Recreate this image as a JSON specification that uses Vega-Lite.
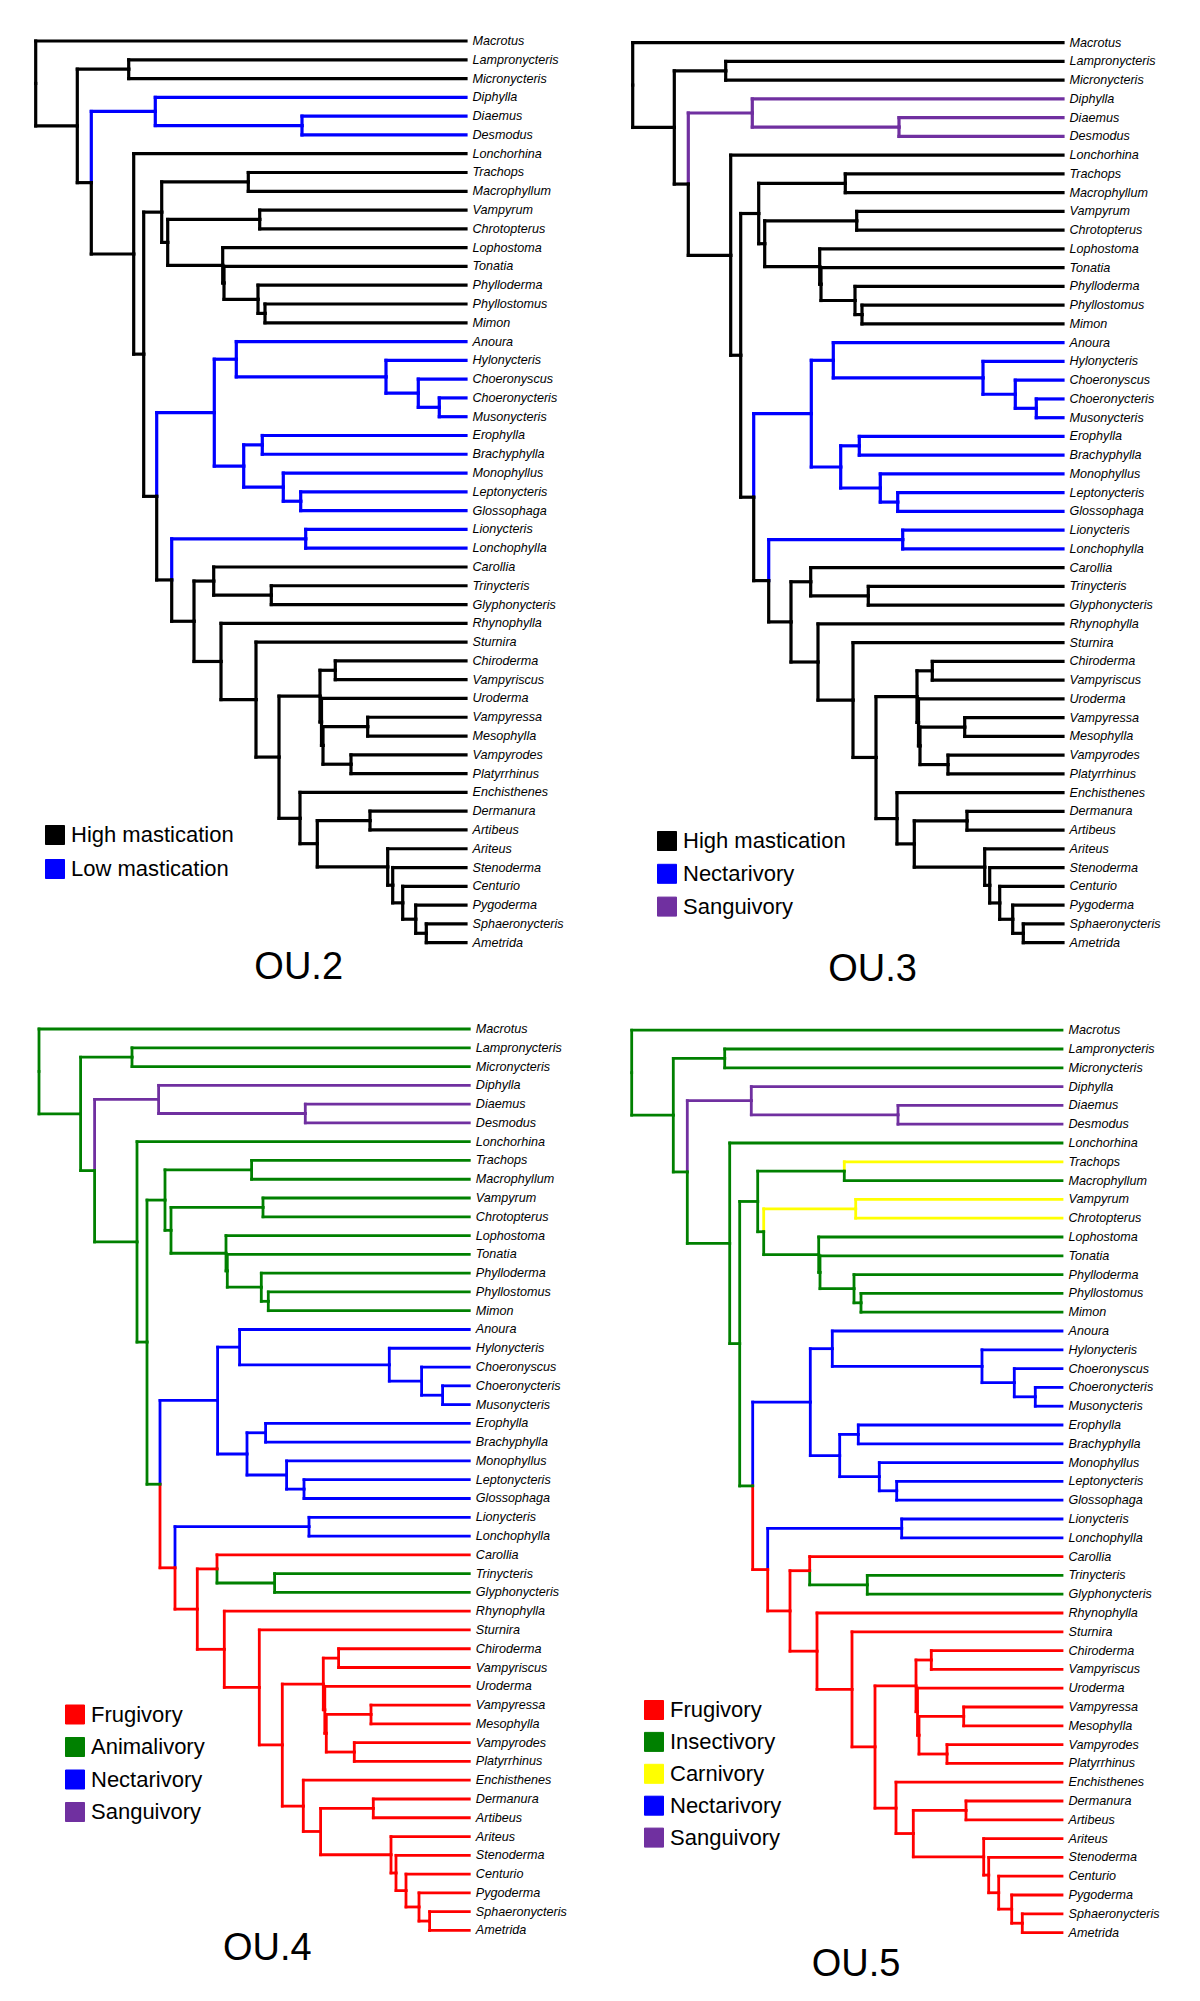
{
"$schema": "https://vega.github.io/schema/vega-lite/v6.json",
"padding": 0,
"spacing": 0,
"bounds": "flush",
"columns": 2,
"config": {"view": {"stroke": null}, "font": "Liberation Sans"},
"resolve": {"scale": {"color": "independent", "x": "independent", "y": "independent"}, "legend": {"color": "independent"}},
"datasets": {"tree": [
{"px":0,"py":2.26,"cx":430.3,"cy":0,"c2":"K","c3":"K","c4":"G","c5":"G","n":"Macrotus"},
{"px":0,"py":2.26,"cx":41.6,"cy":4.52,"c2":"K","c3":"K","c4":"G","c5":"G"},
{"px":41.6,"py":4.52,"cx":93,"cy":1.5,"c2":"K","c3":"K","c4":"G","c5":"G"},
{"px":93,"py":1.5,"cx":430.3,"cy":1,"c2":"K","c3":"K","c4":"G","c5":"G","n":"Lampronycteris"},
{"px":93,"py":1.5,"cx":430.3,"cy":2,"c2":"K","c3":"K","c4":"G","c5":"G","n":"Micronycteris"},
{"px":41.6,"py":4.52,"cx":55.6,"cy":7.54,"c2":"K","c3":"K","c4":"G","c5":"G"},
{"px":55.6,"py":7.54,"cx":119.6,"cy":3.75,"c2":"B","c3":"P","c4":"P","c5":"P"},
{"px":119.6,"py":3.75,"cx":430.3,"cy":3,"c2":"B","c3":"P","c4":"P","c5":"P","n":"Diphylla"},
{"px":119.6,"py":3.75,"cx":266.3,"cy":4.5,"c2":"B","c3":"P","c4":"P","c5":"P"},
{"px":266.3,"py":4.5,"cx":430.3,"cy":4,"c2":"B","c3":"P","c4":"P","c5":"P","n":"Diaemus"},
{"px":266.3,"py":4.5,"cx":430.3,"cy":5,"c2":"B","c3":"P","c4":"P","c5":"P","n":"Desmodus"},
{"px":55.6,"py":7.54,"cx":98,"cy":11.34,"c2":"K","c3":"K","c4":"G","c5":"G"},
{"px":98,"py":11.34,"cx":430.3,"cy":6,"c2":"K","c3":"K","c4":"G","c5":"G","n":"Lonchorhina"},
{"px":98,"py":11.34,"cx":108,"cy":16.67,"c2":"K","c3":"K","c4":"G","c5":"G"},
{"px":108,"py":16.67,"cx":126,"cy":9.11,"c2":"K","c3":"K","c4":"G","c5":"G"},
{"px":126,"py":9.11,"cx":212.6,"cy":7.5,"c2":"K","c3":"K","c4":"G","c5":"G"},
{"px":212.6,"py":7.5,"cx":430.3,"cy":7,"c2":"K","c3":"K","c4":"G","c5":"Y","n":"Trachops"},
{"px":212.6,"py":7.5,"cx":430.3,"cy":8,"c2":"K","c3":"K","c4":"G","c5":"G","n":"Macrophyllum"},
{"px":126,"py":9.11,"cx":132,"cy":10.72,"c2":"K","c3":"K","c4":"G","c5":"G"},
{"px":132,"py":10.72,"cx":224,"cy":9.5,"c2":"K","c3":"K","c4":"G","c5":"Y"},
{"px":224,"py":9.5,"cx":430.3,"cy":9,"c2":"K","c3":"K","c4":"G","c5":"Y","n":"Vampyrum"},
{"px":224,"py":9.5,"cx":430.3,"cy":10,"c2":"K","c3":"K","c4":"G","c5":"Y","n":"Chrotopterus"},
{"px":132,"py":10.72,"cx":187,"cy":11.94,"c2":"K","c3":"K","c4":"G","c5":"G"},
{"px":187,"py":11.94,"cx":430.3,"cy":11,"c2":"K","c3":"K","c4":"G","c5":"G","n":"Lophostoma"},
{"px":187,"py":11.94,"cx":188.3,"cy":12.88,"c2":"K","c3":"K","c4":"G","c5":"G"},
{"px":188.3,"py":12.88,"cx":430.3,"cy":12,"c2":"K","c3":"K","c4":"G","c5":"G","n":"Tonatia"},
{"px":188.3,"py":12.88,"cx":222.3,"cy":13.75,"c2":"K","c3":"K","c4":"G","c5":"G"},
{"px":222.3,"py":13.75,"cx":430.3,"cy":13,"c2":"K","c3":"K","c4":"G","c5":"G","n":"Phylloderma"},
{"px":222.3,"py":13.75,"cx":229.3,"cy":14.5,"c2":"K","c3":"K","c4":"G","c5":"G"},
{"px":229.3,"py":14.5,"cx":430.3,"cy":14,"c2":"K","c3":"K","c4":"G","c5":"G","n":"Phyllostomus"},
{"px":229.3,"py":14.5,"cx":430.3,"cy":15,"c2":"K","c3":"K","c4":"G","c5":"G","n":"Mimon"},
{"px":108,"py":16.67,"cx":121,"cy":24.24,"c2":"K","c3":"K","c4":"G","c5":"G"},
{"px":121,"py":24.24,"cx":178.6,"cy":19.78,"c2":"B","c3":"B","c4":"B","c5":"B"},
{"px":178.6,"py":19.78,"cx":200.6,"cy":16.94,"c2":"B","c3":"B","c4":"B","c5":"B"},
{"px":200.6,"py":16.94,"cx":430.3,"cy":16,"c2":"B","c3":"B","c4":"B","c5":"B","n":"Anoura"},
{"px":200.6,"py":16.94,"cx":350.3,"cy":17.88,"c2":"B","c3":"B","c4":"B","c5":"B"},
{"px":350.3,"py":17.88,"cx":430.3,"cy":17,"c2":"B","c3":"B","c4":"B","c5":"B","n":"Hylonycteris"},
{"px":350.3,"py":17.88,"cx":382.6,"cy":18.75,"c2":"B","c3":"B","c4":"B","c5":"B"},
{"px":382.6,"py":18.75,"cx":430.3,"cy":18,"c2":"B","c3":"B","c4":"B","c5":"B","n":"Choeronyscus"},
{"px":382.6,"py":18.75,"cx":403.6,"cy":19.5,"c2":"B","c3":"B","c4":"B","c5":"B"},
{"px":403.6,"py":19.5,"cx":430.3,"cy":19,"c2":"B","c3":"B","c4":"B","c5":"B","n":"Choeronycteris"},
{"px":403.6,"py":19.5,"cx":430.3,"cy":20,"c2":"B","c3":"B","c4":"B","c5":"B","n":"Musonycteris"},
{"px":178.6,"py":19.78,"cx":208,"cy":22.63,"c2":"B","c3":"B","c4":"B","c5":"B"},
{"px":208,"py":22.63,"cx":226.6,"cy":21.5,"c2":"B","c3":"B","c4":"B","c5":"B"},
{"px":226.6,"py":21.5,"cx":430.3,"cy":21,"c2":"B","c3":"B","c4":"B","c5":"B","n":"Erophylla"},
{"px":226.6,"py":21.5,"cx":430.3,"cy":22,"c2":"B","c3":"B","c4":"B","c5":"B","n":"Brachyphylla"},
{"px":208,"py":22.63,"cx":247.6,"cy":23.75,"c2":"B","c3":"B","c4":"B","c5":"B"},
{"px":247.6,"py":23.75,"cx":430.3,"cy":23,"c2":"B","c3":"B","c4":"B","c5":"B","n":"Monophyllus"},
{"px":247.6,"py":23.75,"cx":265,"cy":24.5,"c2":"B","c3":"B","c4":"B","c5":"B"},
{"px":265,"py":24.5,"cx":430.3,"cy":24,"c2":"B","c3":"B","c4":"B","c5":"B","n":"Leptonycteris"},
{"px":265,"py":24.5,"cx":430.3,"cy":25,"c2":"B","c3":"B","c4":"B","c5":"B","n":"Glossophaga"},
{"px":121,"py":24.24,"cx":136,"cy":28.69,"c2":"K","c3":"K","c4":"R","c5":"R"},
{"px":136,"py":28.69,"cx":270,"cy":26.5,"c2":"B","c3":"B","c4":"B","c5":"B"},
{"px":270,"py":26.5,"cx":430.3,"cy":26,"c2":"B","c3":"B","c4":"B","c5":"B","n":"Lionycteris"},
{"px":270,"py":26.5,"cx":430.3,"cy":27,"c2":"B","c3":"B","c4":"B","c5":"B","n":"Lonchophylla"},
{"px":136,"py":28.69,"cx":158.3,"cy":30.89,"c2":"K","c3":"K","c4":"R","c5":"R"},
{"px":158.3,"py":30.89,"cx":178,"cy":28.75,"c2":"K","c3":"K","c4":"R","c5":"R"},
{"px":178,"py":28.75,"cx":430.3,"cy":28,"c2":"K","c3":"K","c4":"R","c5":"R","n":"Carollia"},
{"px":178,"py":28.75,"cx":235.6,"cy":29.5,"c2":"K","c3":"K","c4":"G","c5":"G"},
{"px":235.6,"py":29.5,"cx":430.3,"cy":29,"c2":"K","c3":"K","c4":"G","c5":"G","n":"Trinycteris"},
{"px":235.6,"py":29.5,"cx":430.3,"cy":30,"c2":"K","c3":"K","c4":"G","c5":"G","n":"Glyphonycteris"},
{"px":158.3,"py":30.89,"cx":185.3,"cy":33.03,"c2":"K","c3":"K","c4":"R","c5":"R"},
{"px":185.3,"py":33.03,"cx":430.3,"cy":31,"c2":"K","c3":"K","c4":"R","c5":"R","n":"Rhynophylla"},
{"px":185.3,"py":33.03,"cx":220.3,"cy":35.06,"c2":"K","c3":"K","c4":"R","c5":"R"},
{"px":220.3,"py":35.06,"cx":430.3,"cy":32,"c2":"K","c3":"K","c4":"R","c5":"R","n":"Sturnira"},
{"px":220.3,"py":35.06,"cx":243.3,"cy":38.12,"c2":"K","c3":"K","c4":"R","c5":"R"},
{"px":243.3,"py":38.12,"cx":284.3,"cy":34.88,"c2":"K","c3":"K","c4":"R","c5":"R"},
{"px":284.3,"py":34.88,"cx":299.6,"cy":33.5,"c2":"K","c3":"K","c4":"R","c5":"R"},
{"px":299.6,"py":33.5,"cx":430.3,"cy":33,"c2":"K","c3":"K","c4":"R","c5":"R","n":"Chiroderma"},
{"px":299.6,"py":33.5,"cx":430.3,"cy":34,"c2":"K","c3":"K","c4":"R","c5":"R","n":"Vampyriscus"},
{"px":284.3,"py":34.88,"cx":285.8,"cy":36.25,"c2":"K","c3":"K","c4":"R","c5":"R"},
{"px":285.8,"py":36.25,"cx":430.3,"cy":35,"c2":"K","c3":"K","c4":"R","c5":"R","n":"Uroderma"},
{"px":285.8,"py":36.25,"cx":287.3,"cy":37.5,"c2":"K","c3":"K","c4":"R","c5":"R"},
{"px":287.3,"py":37.5,"cx":332,"cy":36.5,"c2":"K","c3":"K","c4":"R","c5":"R"},
{"px":332,"py":36.5,"cx":430.3,"cy":36,"c2":"K","c3":"K","c4":"R","c5":"R","n":"Vampyressa"},
{"px":332,"py":36.5,"cx":430.3,"cy":37,"c2":"K","c3":"K","c4":"R","c5":"R","n":"Mesophylla"},
{"px":287.3,"py":37.5,"cx":315.3,"cy":38.5,"c2":"K","c3":"K","c4":"R","c5":"R"},
{"px":315.3,"py":38.5,"cx":430.3,"cy":38,"c2":"K","c3":"K","c4":"R","c5":"R","n":"Vampyrodes"},
{"px":315.3,"py":38.5,"cx":430.3,"cy":39,"c2":"K","c3":"K","c4":"R","c5":"R","n":"Platyrrhinus"},
{"px":243.3,"py":38.12,"cx":264.3,"cy":41.38,"c2":"K","c3":"K","c4":"R","c5":"R"},
{"px":264.3,"py":41.38,"cx":430.3,"cy":40,"c2":"K","c3":"K","c4":"R","c5":"R","n":"Enchisthenes"},
{"px":264.3,"py":41.38,"cx":281.6,"cy":42.73,"c2":"K","c3":"K","c4":"R","c5":"R"},
{"px":281.6,"py":42.73,"cx":334.3,"cy":41.5,"c2":"K","c3":"K","c4":"R","c5":"R"},
{"px":334.3,"py":41.5,"cx":430.3,"cy":41,"c2":"K","c3":"K","c4":"R","c5":"R","n":"Dermanura"},
{"px":334.3,"py":41.5,"cx":430.3,"cy":42,"c2":"K","c3":"K","c4":"R","c5":"R","n":"Artibeus"},
{"px":281.6,"py":42.73,"cx":352,"cy":43.97,"c2":"K","c3":"K","c4":"R","c5":"R"},
{"px":352,"py":43.97,"cx":430.3,"cy":43,"c2":"K","c3":"K","c4":"R","c5":"R","n":"Ariteus"},
{"px":352,"py":43.97,"cx":357,"cy":44.94,"c2":"K","c3":"K","c4":"R","c5":"R"},
{"px":357,"py":44.94,"cx":430.3,"cy":44,"c2":"K","c3":"K","c4":"R","c5":"R","n":"Stenoderma"},
{"px":357,"py":44.94,"cx":367,"cy":45.88,"c2":"K","c3":"K","c4":"R","c5":"R"},
{"px":367,"py":45.88,"cx":430.3,"cy":45,"c2":"K","c3":"K","c4":"R","c5":"R","n":"Centurio"},
{"px":367,"py":45.88,"cx":380,"cy":46.75,"c2":"K","c3":"K","c4":"R","c5":"R"},
{"px":380,"py":46.75,"cx":430.3,"cy":46,"c2":"K","c3":"K","c4":"R","c5":"R","n":"Pygoderma"},
{"px":380,"py":46.75,"cx":390.6,"cy":47.5,"c2":"K","c3":"K","c4":"R","c5":"R"},
{"px":390.6,"py":47.5,"cx":430.3,"cy":47,"c2":"K","c3":"K","c4":"R","c5":"R","n":"Sphaeronycteris"},
{"px":390.6,"py":47.5,"cx":430.3,"cy":48,"c2":"K","c3":"K","c4":"R","c5":"R","n":"Ametrida"}
]},
"concat": [
{
 "width": 600, "height": 1000,
 "data": {"name": "tree"},
 "title": {"text": "OU.2", "orient": "bottom", "anchor": "middle", "frame": "group", "baseline": "alphabetic", "offset": -20.7, "dx": -1.3, "fontSize": 38, "font": "Liberation Sans", "fontWeight": "normal", "color": "#000000"},
 "layer": [
  {"mark": {"type": "rule", "strokeWidth": 3.2, "strokeCap": "square"},
   "encoding": {
    "x": {"field": "px", "type": "quantitative", "scale": {"domain": [-35.7, 564.3], "nice": false, "zero": false}, "axis": null},
    "y": {"field": "py", "type": "quantitative", "scale": {"domain": [-2.183, 51.052], "reverse": true, "nice": false, "zero": false}, "axis": null},
    "y2": {"field": "cy"},
    "color": {"field": "c2", "type": "nominal", "scale": {"domain": ["K", "B"], "range": ["#000000", "#0000ff"]},
     "legend": {"title": null, "orient": "none", "legendX": 44, "legendY": 824, "padding": 0, "symbolType": "square", "symbolSize": 361, "labelFontSize": 22, "labelFont": "Liberation Sans", "labelColor": "#000000", "labelOffset": 5, "rowPadding": 10, "labelLimit": 400,
      "labelExpr": "datum.label=='K'?'High mastication':'Low mastication'",
      "encode": {"symbols": {"update": {"fill": {"signal": "datum.value=='K'?'#000000':datum.value=='B'?'#0000ff':datum.value=='P'?'#7030a0':datum.value=='G'?'#008000':datum.value=='R'?'#ff0000':'#ffff00'"}, "stroke": {"value": "#222222"}, "strokeWidth": {"value": 1}, "opacity": {"value": 1}}}}}}}},
  {"mark": {"type": "rule", "strokeWidth": 3.2, "strokeCap": "square"},
   "encoding": {
    "x": {"field": "px", "type": "quantitative", "scale": {"domain": [-35.7, 564.3], "nice": false, "zero": false}, "axis": null},
    "x2": {"field": "cx"},
    "y": {"field": "cy", "type": "quantitative", "scale": {"domain": [-2.183, 51.052], "reverse": true, "nice": false, "zero": false}, "axis": null},
    "color": {"field": "c2", "type": "nominal"}}},
  {"transform": [{"filter": "isValid(datum.n)"}],
   "mark": {"type": "text", "align": "left", "baseline": "middle", "dx": 6.5, "fontSize": 12.6, "fontStyle": "italic", "font": "Liberation Sans", "color": "#000000"},
   "encoding": {
    "x": {"field": "cx", "type": "quantitative", "scale": {"domain": [-35.7, 564.3], "nice": false, "zero": false}, "axis": null},
    "y": {"field": "cy", "type": "quantitative", "scale": {"domain": [-2.183, 51.052], "reverse": true, "nice": false, "zero": false}, "axis": null},
    "text": {"field": "n"}}}
 ]
},
{
 "width": 600, "height": 1000,
 "data": {"name": "tree"},
 "title": {"text": "OU.3", "orient": "bottom", "anchor": "middle", "frame": "group", "baseline": "alphabetic", "offset": -19, "dx": -27.5, "fontSize": 38, "font": "Liberation Sans", "fontWeight": "normal", "color": "#000000"},
 "layer": [
  {"mark": {"type": "rule", "strokeWidth": 3.2, "strokeCap": "square"},
   "encoding": {
    "x": {"field": "px", "type": "quantitative", "scale": {"domain": [-32.7, 567.3], "nice": false, "zero": false}, "axis": null},
    "y": {"field": "py", "type": "quantitative", "scale": {"domain": [-2.277, 51.056], "reverse": true, "nice": false, "zero": false}, "axis": null},
    "y2": {"field": "cy"},
    "color": {"field": "c3", "type": "nominal", "scale": {"domain": ["K", "B", "P"], "range": ["#000000", "#0000ff", "#7030a0"]},
     "legend": {"title": null, "orient": "none", "legendX": 56, "legendY": 830, "padding": 0, "symbolType": "square", "symbolSize": 361, "labelFontSize": 22, "labelFont": "Liberation Sans", "labelColor": "#000000", "labelOffset": 5, "rowPadding": 8.8, "labelLimit": 400,
      "labelExpr": "datum.label=='K'?'High mastication':datum.label=='B'?'Nectarivory':'Sanguivory'",
      "encode": {"symbols": {"update": {"fill": {"signal": "datum.value=='K'?'#000000':datum.value=='B'?'#0000ff':datum.value=='P'?'#7030a0':datum.value=='G'?'#008000':datum.value=='R'?'#ff0000':'#ffff00'"}, "stroke": {"value": "#222222"}, "strokeWidth": {"value": 1}, "opacity": {"value": 1}}}}}}}},
  {"mark": {"type": "rule", "strokeWidth": 3.2, "strokeCap": "square"},
   "encoding": {
    "x": {"field": "px", "type": "quantitative", "scale": {"domain": [-32.7, 567.3], "nice": false, "zero": false}, "axis": null},
    "x2": {"field": "cx"},
    "y": {"field": "cy", "type": "quantitative", "scale": {"domain": [-2.277, 51.056], "reverse": true, "nice": false, "zero": false}, "axis": null},
    "color": {"field": "c3", "type": "nominal"}}},
  {"transform": [{"filter": "isValid(datum.n)"}],
   "mark": {"type": "text", "align": "left", "baseline": "middle", "dx": 6.5, "fontSize": 12.6, "fontStyle": "italic", "font": "Liberation Sans", "color": "#000000"},
   "encoding": {
    "x": {"field": "cx", "type": "quantitative", "scale": {"domain": [-32.7, 567.3], "nice": false, "zero": false}, "axis": null},
    "y": {"field": "cy", "type": "quantitative", "scale": {"domain": [-2.277, 51.056], "reverse": true, "nice": false, "zero": false}, "axis": null},
    "text": {"field": "n"}}}
 ]
},
{
 "width": 600, "height": 1001,
 "data": {"name": "tree"},
 "title": {"text": "OU.4", "orient": "bottom", "anchor": "middle", "frame": "group", "baseline": "alphabetic", "offset": -40.8, "dx": -32.6, "fontSize": 38, "font": "Liberation Sans", "fontWeight": "normal", "color": "#000000"},
 "layer": [
  {"mark": {"type": "rule", "strokeWidth": 2.8, "strokeCap": "square"},
   "encoding": {
    "x": {"field": "px", "type": "quantitative", "scale": {"domain": [-39, 561], "nice": false, "zero": false}, "axis": null},
    "y": {"field": "py", "type": "quantitative", "scale": {"domain": [-1.544, 51.757], "reverse": true, "nice": false, "zero": false}, "axis": null},
    "y2": {"field": "cy"},
    "color": {"field": "c4", "type": "nominal", "scale": {"domain": ["R", "G", "B", "P"], "range": ["#ff0000", "#008000", "#0000ff", "#7030a0"]},
     "legend": {"title": null, "orient": "none", "legendX": 64, "legendY": 703.5, "padding": 0, "symbolType": "square", "symbolSize": 361, "labelFontSize": 22, "labelFont": "Liberation Sans", "labelColor": "#000000", "labelOffset": 5, "rowPadding": 8.5, "labelLimit": 400,
      "labelExpr": "datum.label=='R'?'Frugivory':datum.label=='G'?'Animalivory':datum.label=='B'?'Nectarivory':'Sanguivory'",
      "encode": {"symbols": {"update": {"fill": {"signal": "datum.value=='K'?'#000000':datum.value=='B'?'#0000ff':datum.value=='P'?'#7030a0':datum.value=='G'?'#008000':datum.value=='R'?'#ff0000':'#ffff00'"}, "stroke": {"value": "#222222"}, "strokeWidth": {"value": 1}, "opacity": {"value": 1}}}}}}}},
  {"mark": {"type": "rule", "strokeWidth": 2.8, "strokeCap": "square"},
   "encoding": {
    "x": {"field": "px", "type": "quantitative", "scale": {"domain": [-39, 561], "nice": false, "zero": false}, "axis": null},
    "x2": {"field": "cx"},
    "y": {"field": "cy", "type": "quantitative", "scale": {"domain": [-1.544, 51.757], "reverse": true, "nice": false, "zero": false}, "axis": null},
    "color": {"field": "c4", "type": "nominal"}}},
  {"transform": [{"filter": "isValid(datum.n)"}],
   "mark": {"type": "text", "align": "left", "baseline": "middle", "dx": 6.5, "fontSize": 12.6, "fontStyle": "italic", "font": "Liberation Sans", "color": "#000000"},
   "encoding": {
    "x": {"field": "cx", "type": "quantitative", "scale": {"domain": [-39, 561], "nice": false, "zero": false}, "axis": null},
    "y": {"field": "cy", "type": "quantitative", "scale": {"domain": [-1.544, 51.757], "reverse": true, "nice": false, "zero": false}, "axis": null},
    "text": {"field": "n"}}}
 ]
},
{
 "width": 600, "height": 1001,
 "data": {"name": "tree"},
 "title": {"text": "OU.5", "orient": "bottom", "anchor": "middle", "frame": "group", "baseline": "alphabetic", "offset": -25.5, "dx": -44, "fontSize": 38, "font": "Liberation Sans", "fontWeight": "normal", "color": "#000000"},
 "layer": [
  {"mark": {"type": "rule", "strokeWidth": 2.8, "strokeCap": "square"},
   "encoding": {
    "x": {"field": "px", "type": "quantitative", "scale": {"domain": [-31.7, 568.3], "nice": false, "zero": false}, "axis": null},
    "y": {"field": "py", "type": "quantitative", "scale": {"domain": [-1.606, 51.638], "reverse": true, "nice": false, "zero": false}, "axis": null},
    "y2": {"field": "cy"},
    "color": {"field": "c5", "type": "nominal", "scale": {"domain": ["R", "G", "Y", "B", "P"], "range": ["#ff0000", "#008000", "#ffff00", "#0000ff", "#7030a0"]},
     "legend": {"title": null, "orient": "none", "legendX": 43, "legendY": 699, "padding": 0, "symbolType": "square", "symbolSize": 361, "labelFontSize": 22, "labelFont": "Liberation Sans", "labelColor": "#000000", "labelOffset": 5, "rowPadding": 7.9, "labelLimit": 400,
      "labelExpr": "datum.label=='R'?'Frugivory':datum.label=='G'?'Insectivory':datum.label=='Y'?'Carnivory':datum.label=='B'?'Nectarivory':'Sanguivory'",
      "encode": {"symbols": {"update": {"fill": {"signal": "datum.value=='K'?'#000000':datum.value=='B'?'#0000ff':datum.value=='P'?'#7030a0':datum.value=='G'?'#008000':datum.value=='R'?'#ff0000':'#ffff00'"}, "stroke": {"value": "#222222"}, "strokeWidth": {"value": 1}, "opacity": {"value": 1}}}}}}}},
  {"mark": {"type": "rule", "strokeWidth": 2.8, "strokeCap": "square"},
   "encoding": {
    "x": {"field": "px", "type": "quantitative", "scale": {"domain": [-31.7, 568.3], "nice": false, "zero": false}, "axis": null},
    "x2": {"field": "cx"},
    "y": {"field": "cy", "type": "quantitative", "scale": {"domain": [-1.606, 51.638], "reverse": true, "nice": false, "zero": false}, "axis": null},
    "color": {"field": "c5", "type": "nominal"}}},
  {"transform": [{"filter": "isValid(datum.n)"}],
   "mark": {"type": "text", "align": "left", "baseline": "middle", "dx": 6.5, "fontSize": 12.6, "fontStyle": "italic", "font": "Liberation Sans", "color": "#000000"},
   "encoding": {
    "x": {"field": "cx", "type": "quantitative", "scale": {"domain": [-31.7, 568.3], "nice": false, "zero": false}, "axis": null},
    "y": {"field": "cy", "type": "quantitative", "scale": {"domain": [-1.606, 51.638], "reverse": true, "nice": false, "zero": false}, "axis": null},
    "text": {"field": "n"}}}
 ]
}
]
}
